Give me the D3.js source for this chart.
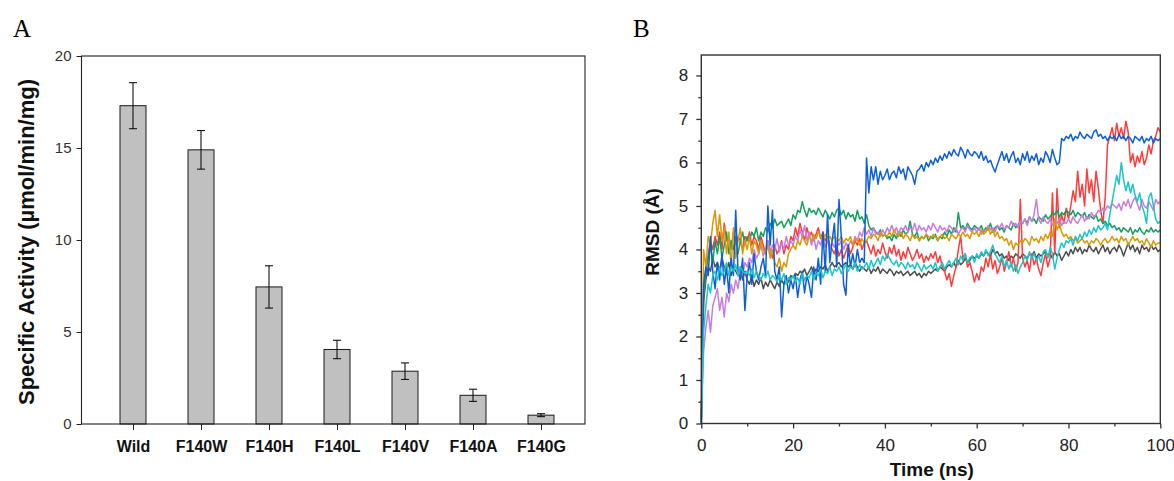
<!DOCTYPE html>
<html>
<head>
<meta charset="utf-8">
<title>Specific activity and RMSD</title>
<script src="https://cdn.jsdelivr.net/npm/d3@7"></script>
<style>
  html, body { margin: 0; padding: 0; background: #fff; }
  svg { display: block; }
</style>
</head>
<body>
<div id="chart"></div>
<script>
// ---- Panel A: specific activity of the F140 variants
var variants = ['Wild', 'F140W', 'F140H', 'F140L', 'F140V', 'F140A', 'F140G'];
var activity = [17.3, 14.9, 7.45, 4.05, 2.87, 1.56, 0.48];
var activityErr = [1.25, 1.05, 1.15, 0.5, 0.45, 0.33, 0.08];
var activityTicks = [0, 5, 10, 15, 20];

// ---- Panel B: RMSD traces, one value every 0.5 ns (0 .. 100 ns)
var rmsdStep = 0.5;
var rmsdBlack = [
  0, 2.8, 3.3, 3.6, 3.5, 3.8, 3.6, 3.7, 3.5, 3.8, 3.6, 3.5, 3.7, 3.4, 3.6, 3.5, 3.4, 3.6, 3.3, 3.5,
  3.3, 3.2, 3.4, 3.15, 3.3, 3.2, 3.35, 3.1, 3.25, 3.15, 3.3, 3.2, 3.1, 3.25, 3.15, 3.3, 3.2, 3.35, 3.25, 3.4,
  3.35, 3.45, 3.4, 3.5, 3.45, 3.55, 3.4, 3.5, 3.6, 3.45, 3.55, 3.5, 3.6, 3.55, 3.65, 3.5, 3.6, 3.7, 3.6, 3.65,
  3.7, 3.6, 3.65, 3.7, 3.6, 3.65, 3.55, 3.7, 3.6, 3.5, 3.6, 3.55, 3.5, 3.6, 3.45, 3.55, 3.5, 3.6, 3.45, 3.55,
  3.5, 3.45, 3.55, 3.5, 3.4, 3.5, 3.45, 3.5, 3.4, 3.45, 3.5, 3.4, 3.45, 3.5, 3.4, 3.45, 3.35, 3.45, 3.4, 3.5,
  3.45, 3.5, 3.55, 3.5, 3.6, 3.55, 3.5, 3.6, 3.65, 3.6, 3.7, 3.6, 3.75, 3.65, 3.7, 3.8, 3.7, 3.75, 3.85, 3.8,
  3.85, 3.8, 3.9, 3.85, 3.95, 3.9, 3.85, 4.0, 3.9, 3.95, 3.85, 3.9, 3.8, 3.85, 3.75, 3.85, 3.8, 3.9, 3.85, 3.8,
  3.9, 3.85, 3.8, 3.9, 3.85, 3.95, 3.8, 3.9, 3.85, 3.9, 3.95, 3.85, 3.9, 3.8, 3.95, 3.85, 3.9, 3.75, 3.85, 3.95,
  3.85, 4.0, 3.9, 4.05, 3.95, 4.05, 3.9, 4.0, 3.95, 4.1, 4.0, 3.95, 4.05, 3.9, 4.0, 4.1, 3.95, 4.05, 3.9, 4.0,
  4.05, 3.95, 4.1, 4.0, 3.85, 4.0, 4.15, 4.0, 4.1, 3.95, 4.05, 3.9, 4.1, 4.0, 4.05, 3.95, 4.1, 4.0, 4.05, 3.95,
  4.0];
var rmsdRed = [
  0, 3.0, 3.5, 3.9, 4.2, 4.0, 4.3, 4.1, 4.4, 4.0, 4.6, 4.2, 4.3, 4.0, 4.4, 4.1, 4.3, 4.2, 4.0, 4.3,
  4.2, 4.4, 4.1, 4.3, 4.2, 4.0, 4.3, 4.1, 3.9, 4.2, 4.0, 3.8, 4.1, 3.9, 4.0, 4.2, 3.9, 4.1, 4.0, 4.3,
  4.2, 4.5, 4.3, 4.6, 4.4, 4.2, 4.5, 4.3, 4.4, 4.2, 4.35, 4.5, 4.25, 4.4, 4.2, 4.3, 4.1, 4.0, 3.9, 4.1,
  3.85, 4.0, 3.8, 3.95, 4.1, 3.9, 4.05, 4.2, 4.1, 4.25, 4.0, 4.15, 4.2, 4.05, 3.9, 4.1, 3.85, 4.0, 3.9, 4.15,
  3.95, 3.8, 4.05, 3.9, 4.1, 3.85, 4.0, 3.75, 3.95, 3.8, 4.05, 3.9, 3.75, 3.85, 4.0, 3.8, 3.9, 3.7, 3.85, 3.75,
  3.9, 3.8, 3.95, 3.7, 3.85, 3.6, 3.5, 3.3, 3.45, 3.15, 3.4, 3.6, 4.0, 4.3, 3.8, 3.9, 3.6, 3.7, 3.5, 3.25,
  3.45, 3.3, 3.6, 3.5, 3.8, 3.6, 3.9, 3.55, 3.75, 3.45, 3.6, 3.8, 3.5, 3.7, 3.95, 3.6, 3.8, 3.5, 3.7, 5.15,
  3.8, 3.6, 3.75, 3.5, 3.9, 3.65, 3.8, 3.55, 3.4, 3.7, 3.9, 3.6, 3.8, 5.3, 3.9, 5.4, 4.5, 4.8, 4.6, 4.95,
  4.7, 5.0, 5.35, 5.1, 5.8, 5.2, 5.5, 5.0, 5.85, 5.3, 5.6, 5.1, 5.8, 5.4, 4.9, 4.6, 5.2, 6.4, 6.6, 6.8,
  6.5, 6.9, 6.6, 6.8, 6.55, 6.95, 6.7, 6.0, 6.2, 5.9, 6.15, 6.0, 6.25, 5.95, 6.1, 6.4, 6.2, 6.5, 6.6, 6.8,
  6.7];
var rmsdGreen = [
  0, 2.9, 3.5, 3.8, 4.1, 3.7, 4.2, 3.9, 4.3, 3.8, 4.1, 4.4, 3.9, 4.2, 4.0, 4.3, 3.9, 4.2, 4.4, 4.1,
  4.3, 4.2, 4.4, 4.3, 4.5, 4.2, 4.4, 4.3, 4.5, 4.4, 4.6, 4.5, 4.7, 4.55, 4.6, 4.65, 4.5, 4.6, 4.7, 4.55,
  4.8, 4.7, 4.9, 4.85, 5.1, 4.9, 4.75, 4.95, 4.85, 4.9, 4.8, 4.95, 4.85, 4.75, 4.9, 4.8, 4.7, 4.85, 4.75, 4.9,
  4.95, 4.8, 4.9, 4.7, 4.85, 4.75, 4.8, 4.65, 4.9, 4.7, 4.75, 4.6, 4.8, 4.55, 4.45, 4.5, 4.4, 4.35, 4.45, 4.3,
  4.35, 4.25, 4.3, 4.2, 4.35, 4.25, 4.4, 4.3, 4.45, 4.35, 4.4, 4.65, 4.35, 4.3, 4.4, 4.2, 4.3, 4.25, 4.35, 4.2,
  4.3, 4.25, 4.35, 4.2, 4.3, 4.25, 4.4, 4.3, 4.45, 4.35, 4.5, 4.4, 4.85, 4.5, 4.55, 4.45, 4.6, 4.5, 4.45, 4.55,
  4.5, 4.45, 4.55, 4.4, 4.5, 4.45, 4.6, 4.4, 4.5, 4.55, 4.45, 4.5, 4.4, 4.55, 4.5, 4.45, 4.6, 4.5, 4.55, 4.65,
  4.6, 4.7, 4.6, 4.75, 4.65, 4.7, 4.6, 4.75, 4.7, 4.65, 4.8, 4.7, 4.75, 4.85, 4.8, 4.9, 4.75, 4.85, 4.8, 4.9,
  4.85, 4.8, 4.9, 4.75, 4.85, 4.8, 4.75, 4.85, 4.7, 4.8, 4.75, 4.7, 4.8, 4.65, 4.7, 4.6, 4.65, 4.55, 4.6, 4.5,
  4.55, 4.45, 4.5, 4.4, 4.5, 4.45, 4.4, 4.5, 4.35, 4.45, 4.4, 4.5, 4.4, 4.35, 4.45, 4.4, 4.5, 4.4, 4.45, 4.4,
  4.45];
var rmsdPurple = [
  0, 1.65, 2.2, 2.6, 2.1, 2.7, 2.9, 3.1, 2.6, 2.9, 2.45, 3.0, 2.8, 3.2, 3.0, 3.3, 3.1, 3.5, 3.4, 3.7,
  3.6, 3.8, 3.7, 4.0, 3.8, 3.9, 4.1, 3.85, 4.0, 4.2, 3.9, 4.1, 4.0, 4.25, 3.95, 4.15, 4.0, 4.3, 4.1, 4.2,
  4.1, 4.3, 4.2, 4.45, 4.3, 4.55, 4.2, 4.4, 4.1, 4.3, 4.0, 4.2, 4.1, 4.3, 4.05, 4.2, 4.0, 4.15, 4.05, 4.2,
  4.1, 4.2, 4.0, 4.15, 4.05, 4.2, 4.1, 4.3, 4.2, 4.4, 4.3, 4.5, 4.35, 4.45, 4.3, 4.5, 4.35, 4.4, 4.3, 4.45,
  4.35, 4.5, 4.4, 4.55, 4.4, 4.5, 4.35, 4.5, 4.45, 4.55, 4.4, 4.5, 4.45, 4.6, 4.4, 4.55, 4.45, 4.5, 4.4, 4.55,
  4.45, 4.6, 4.5, 4.4, 4.55, 4.45, 4.5, 4.4, 4.55, 4.5, 4.4, 4.5, 4.35, 4.45, 4.5, 4.4, 4.55, 4.45, 4.4, 4.5,
  4.4, 4.5, 4.35, 4.45, 4.4, 4.55, 4.45, 4.5, 4.4, 4.55, 4.5, 4.6, 4.45, 4.55, 4.5, 4.65, 4.55, 4.6, 4.5, 4.65,
  4.6, 4.7, 4.55, 4.75, 4.65, 4.8, 5.15, 4.7, 4.6, 4.75, 4.65, 4.6, 4.7, 4.55, 4.65, 4.6, 4.7, 4.55, 4.65, 4.6,
  4.7, 4.6, 4.75, 4.65, 4.6, 4.7, 4.8, 4.65, 4.75, 4.7, 4.85, 4.75, 4.8, 4.9, 4.85, 4.95, 4.9, 5.0, 4.95, 5.05,
  5.0, 4.95, 5.05, 4.9, 5.1, 5.0, 5.15, 4.95, 5.1, 5.2, 5.05, 4.9, 5.15, 5.0, 4.95, 5.1, 5.0, 4.9, 5.15, 5.05,
  5.1];
var rmsdOrange = [
  0, 4.0, 3.6, 4.3, 4.1, 4.6, 4.9, 4.3, 4.8, 4.2, 4.5, 3.9, 4.4, 3.6, 4.5, 3.8, 4.2, 4.5, 3.9, 4.2,
  4.0, 4.3, 3.9, 4.2, 4.1, 3.9, 4.2, 4.0, 3.9, 4.1, 3.8, 4.0, 3.7, 3.6, 3.8, 3.5, 3.7, 3.6, 3.9, 4.0,
  4.1, 4.0, 4.2, 4.1, 4.3, 4.2, 4.1, 4.3, 4.2, 4.35, 4.25, 4.4, 4.3, 4.2, 4.35, 4.25, 4.3, 4.2, 4.3, 4.25,
  4.2, 4.3, 4.15, 4.25, 4.2, 4.3, 4.1, 4.25, 4.2, 4.1, 4.25, 4.15, 4.2, 4.3, 4.25, 4.35, 4.3, 4.2, 4.4, 4.3,
  4.35, 4.3, 4.4, 4.3, 4.45, 4.35, 4.3, 4.4, 4.25, 4.35, 4.3, 4.2, 4.35, 4.25, 4.3, 4.2, 4.3, 4.25, 4.35, 4.3,
  4.25, 4.35, 4.3, 4.2, 4.3, 4.35, 4.25, 4.3, 4.2, 4.35, 4.3, 4.25, 4.35, 4.3, 4.4, 4.3, 4.35, 4.25, 4.4, 4.35,
  4.4, 4.3, 4.45, 4.35, 4.4, 4.5, 4.35, 4.45, 4.3, 4.4, 4.25, 4.3, 4.2, 4.25, 4.1, 4.2, 4.0, 4.15, 4.1, 4.2,
  4.15, 4.25, 4.2, 4.1, 4.3, 4.2, 4.25, 4.15, 4.3, 4.2, 4.35, 4.25, 4.4, 4.3, 4.7, 4.45, 4.6, 4.4, 4.3, 4.35,
  4.25, 4.3, 4.2, 4.25, 4.15, 4.2, 4.25, 4.15, 4.2, 4.1, 4.2, 4.15, 4.25, 4.2, 4.1, 4.2, 4.25, 4.15, 4.2, 4.3,
  4.2, 4.25, 4.15, 4.3, 4.2, 4.25, 4.1, 4.2, 4.3, 4.2, 4.25, 4.15, 4.2, 4.1, 4.25, 4.15, 4.05, 4.2, 4.1, 4.15,
  4.15];
var rmsdBlue = [
  0, 3.2, 3.6, 3.4, 4.3, 3.5, 3.1, 3.7, 3.3, 3.9, 3.2, 3.6, 3.0, 3.8, 3.4, 4.9, 3.5, 3.3, 3.8, 2.6,
  3.4, 3.7, 3.2, 3.9, 3.5, 3.3, 3.6, 3.8, 3.4, 5.0, 4.1, 4.9, 3.5, 3.3, 3.6, 2.45, 3.2, 3.4, 3.0, 3.3,
  3.1, 3.4, 2.9, 3.3, 3.5, 3.0, 3.4, 3.2, 2.9, 3.6, 3.3, 3.8, 3.2, 4.4, 3.5, 4.8, 3.7, 4.2, 4.6, 3.6,
  5.15, 4.3, 3.2, 2.95, 4.1, 3.6, 3.9, 3.6, 4.0, 3.7, 3.8, 3.7, 6.1, 5.3, 5.9, 5.6, 5.9, 5.5, 5.8, 5.6,
  5.7, 5.85, 5.6, 5.75, 5.8, 5.65, 5.9, 5.75, 5.85, 5.6, 5.9, 5.8, 5.7, 5.5, 5.8, 5.85, 5.95, 5.8, 6.0, 5.9,
  6.05, 5.95, 6.1, 6.0, 6.15, 6.05, 6.2, 6.1, 6.25, 6.15, 6.3, 6.2, 6.15, 6.35, 6.25, 6.1, 6.3, 6.2, 6.15, 6.25,
  6.2, 6.1, 6.25, 6.05, 6.15, 6.0, 6.05, 5.9, 5.78, 5.95, 6.1, 6.25, 6.05, 6.2, 6.0, 6.15, 6.25, 6.0, 6.1, 5.95,
  6.2, 6.05, 6.25, 6.0, 6.15, 6.05, 6.2, 5.95, 6.1, 6.0, 6.25, 6.15, 6.0, 6.3, 6.1, 5.95, 6.0, 6.55, 6.5, 6.6,
  6.55, 6.65, 6.5, 6.6, 6.55, 6.7, 6.6, 6.55, 6.65, 6.6, 6.55, 6.7, 6.75, 6.6, 6.65, 6.55, 6.6, 6.5, 6.6, 6.55,
  6.6, 6.5, 6.65, 6.55, 6.6, 6.5, 6.6, 6.55, 6.45, 6.6, 6.55, 6.5, 6.6, 6.45, 6.55, 6.5, 6.6, 6.45, 6.55, 6.5,
  6.55];
var rmsdCyan = [
  0, 2.1, 2.7, 3.2, 3.0, 3.4, 3.5, 3.3, 3.6, 3.4, 3.5, 3.7, 3.4, 3.6, 3.5, 3.65, 3.4, 3.6, 3.5, 3.45,
  3.5, 3.4, 3.55, 3.35, 3.5, 3.4, 3.3, 3.45, 3.35, 3.5, 3.3, 3.4, 3.35, 3.25, 3.4, 3.3, 3.45, 3.2, 3.35, 3.3,
  3.4, 3.25, 3.35, 3.2, 3.45, 3.3, 3.4, 3.35, 3.5, 3.3, 3.45, 3.4, 3.55, 3.35, 3.5, 3.45, 3.6, 3.4, 3.55, 3.5,
  3.6, 3.45, 3.55, 3.65, 3.5, 3.6, 3.55, 3.7, 3.5, 3.65, 3.55, 3.6, 3.7, 3.55, 3.75, 3.6, 3.7, 3.8, 3.65, 3.85,
  3.75, 3.9, 3.8, 3.7, 3.65, 3.75, 3.6, 3.7, 3.65, 3.55, 3.7, 3.6, 3.65, 3.55, 3.7, 3.6, 3.5, 3.65, 3.55, 3.6,
  3.65, 3.55, 3.7, 3.5, 3.6, 3.7, 3.55, 3.65, 3.75, 3.6, 3.7, 3.8, 3.65, 3.85, 3.75, 3.9, 3.7, 3.8, 3.85, 3.7,
  3.9, 3.8, 3.95, 3.85, 4.0, 3.85, 3.95, 4.1, 3.9, 3.8, 3.7, 3.85, 3.6, 3.75, 3.55, 3.7, 3.5, 3.65, 3.45, 3.6,
  3.7, 3.85, 3.75, 3.95, 3.8, 3.9, 3.75, 3.85, 3.7, 3.95, 4.0, 3.8, 4.05, 3.9, 3.55, 3.8, 4.0, 4.15, 4.05, 4.2,
  4.15, 4.25, 4.1, 4.3, 4.2, 4.35, 4.25, 4.4, 4.3, 4.45, 4.35, 4.5, 4.4, 4.55, 4.45, 4.5, 4.6, 4.45, 4.8, 5.1,
  5.4, 5.7, 5.5, 6.0, 5.6, 5.35, 5.55, 5.3, 5.5, 5.25, 5.1, 5.3, 5.0, 4.85, 4.6, 5.2, 5.3, 5.0, 4.7, 4.6,
  4.65];
var timeTicks = [0, 20, 40, 60, 80, 100];
var timeMinor = [10, 30, 50, 70, 90];
var rmsdTicks = [0, 1, 2, 3, 4, 5, 6, 7, 8];
var rmsdMinor = [0.5, 1.5, 2.5, 3.5, 4.5, 5.5, 6.5, 7.5];

// draw order follows the reference (cyan ends up on top)
var traces = [
  {color: '#4d4d4d', values: rmsdBlack},
  {color: '#ff3b3b', values: rmsdRed},
  {color: '#12a05c', values: rmsdGreen},
  {color: '#c77ddf', values: rmsdPurple},
  {color: '#d79a06', values: rmsdOrange},
  {color: '#0d5fd8', values: rmsdBlue},
  {color: '#1cc5c8', values: rmsdCyan}
];

var sans = 'Arial, "Liberation Sans", sans-serif';
var serif = '"Times New Roman", "Liberation Serif", serif';

var svg = d3.select('#chart').append('svg')
  .attr('width', 1174)
  .attr('height', 481);

svg.append('rect').attr('width', 1174).attr('height', 481).attr('fill', '#fff');

// ================= Panel A =================
var pa = {left: 81.5, right: 585, top: 56, bottom: 424};

var xA = d3.scalePoint()
  .domain(variants)
  .range([133, 541]);

var yA = d3.scaleLinear()
  .domain([0, 20])
  .range([pa.bottom, pa.top]);

var barW = 26;

var gA = svg.append('g');

gA.append('text')
  .attr('x', 13).attr('y', 37)
  .style('font-family', serif)
  .style('font-size', '25px')
  .text('A');

var yAxisA = gA.append('g')
  .attr('transform', 'translate(' + pa.left + ',0)')
  .call(d3.axisLeft(yA).tickValues(activityTicks).tickSize(5).tickPadding(5).tickSizeOuter(0));
yAxisA.select('.domain').remove();
yAxisA.selectAll('line').attr('stroke', '#222');
yAxisA.selectAll('text')
  .style('font-family', sans)
  .style('font-size', '15px')
  .attr('fill', '#333');

var xAxisA = gA.append('g')
  .attr('transform', 'translate(0,' + pa.bottom + ')')
  .call(d3.axisBottom(xA).tickSize(6).tickPadding(11).tickSizeOuter(0));
xAxisA.select('.domain').remove();
xAxisA.selectAll('line').attr('stroke', '#222');
xAxisA.selectAll('text')
  .style('font-family', sans)
  .style('font-size', '16px')
  .style('font-weight', 'bold')
  .attr('fill', '#111');

// bars
gA.selectAll('rect.bar')
  .data(variants)
  .enter()
  .append('rect')
  .attr('class', 'bar')
  .attr('x', function(d) { return xA(d) - barW / 2; })
  .attr('y', function(d, i) { return yA(activity[i]); })
  .attr('width', barW)
  .attr('height', function(d, i) { return yA(0) - yA(activity[i]); })
  .attr('fill', '#c0c0c0')
  .attr('stroke', '#1a1a1a')
  .attr('stroke-width', 1);

// error bars
var errs = gA.selectAll('g.err')
  .data(variants)
  .enter()
  .append('g')
  .attr('class', 'err')
  .attr('stroke', '#111')
  .attr('stroke-width', 1.1);

errs.append('line')
  .attr('x1', function(d) { return xA(d); })
  .attr('x2', function(d) { return xA(d); })
  .attr('y1', function(d, i) { return yA(activity[i] + activityErr[i]); })
  .attr('y2', function(d, i) { return yA(activity[i] - activityErr[i]); });

errs.append('line')
  .attr('x1', function(d) { return xA(d) - 4; })
  .attr('x2', function(d) { return xA(d) + 4; })
  .attr('y1', function(d, i) { return yA(activity[i] + activityErr[i]); })
  .attr('y2', function(d, i) { return yA(activity[i] + activityErr[i]); });

errs.append('line')
  .attr('x1', function(d) { return xA(d) - 4; })
  .attr('x2', function(d) { return xA(d) + 4; })
  .attr('y1', function(d, i) { return yA(activity[i] - activityErr[i]); })
  .attr('y2', function(d, i) { return yA(activity[i] - activityErr[i]); });

// frame
gA.append('rect')
  .attr('x', pa.left).attr('y', pa.top)
  .attr('width', pa.right - pa.left).attr('height', pa.bottom - pa.top)
  .attr('fill', 'none')
  .attr('stroke', '#222')
  .attr('stroke-width', 1.1);

gA.append('text')
  .attr('transform', 'translate(33.5,' + ((pa.top + pa.bottom) / 2 + 2) + ') rotate(-90)')
  .attr('text-anchor', 'middle')
  .style('font-family', sans)
  .style('font-size', '22px')
  .style('font-weight', 'bold')
  .attr('fill', '#111')
  .text('Specific Activity (\u00b5mol/min/mg)');

// ================= Panel B =================
var pb = {left: 701.3, right: 1160.3, top: 55, bottom: 423.5};

var xB = d3.scaleLinear()
  .domain([0, 100])
  .range([pb.left, pb.right]);

var yB = d3.scaleLinear()
  .domain([0, 8.47])
  .range([pb.bottom, pb.top]);

var gB = svg.append('g');

gB.append('text')
  .attr('x', 633).attr('y', 37)
  .style('font-family', serif)
  .style('font-size', '25px')
  .text('B');

// traces
var line = d3.line()
  .x(function(d, i) { return xB(i * rmsdStep); })
  .y(function(d) { return yB(d); });

gB.selectAll('path.trace')
  .data(traces)
  .enter()
  .append('path')
  .attr('class', 'trace')
  .attr('d', function(d) { return line(d.values); })
  .attr('fill', 'none')
  .attr('stroke', function(d) { return d.color; })
  .attr('stroke-width', 1.5)
  .attr('stroke-linejoin', 'round');

// axes
var yAxisB = gB.append('g')
  .attr('transform', 'translate(' + pb.left + ',0)')
  .call(d3.axisLeft(yB).tickValues(rmsdTicks).tickSize(5).tickPadding(8).tickSizeOuter(0));
yAxisB.select('.domain').remove();

var yMinorB = gB.append('g')
  .attr('transform', 'translate(' + pb.left + ',0)')
  .call(d3.axisLeft(yB).tickValues(rmsdMinor).tickSize(3).tickFormat('').tickSizeOuter(0));
yMinorB.select('.domain').remove();

var xAxisB = gB.append('g')
  .attr('transform', 'translate(0,' + pb.bottom + ')')
  .call(d3.axisBottom(xB).tickValues(timeTicks).tickSize(5).tickPadding(10).tickSizeOuter(0));
xAxisB.select('.domain').remove();

var xMinorB = gB.append('g')
  .attr('transform', 'translate(0,' + pb.bottom + ')')
  .call(d3.axisBottom(xB).tickValues(timeMinor).tickSize(3).tickFormat('').tickSizeOuter(0));
xMinorB.select('.domain').remove();

gB.selectAll('.tick line').attr('stroke', '#333').attr('stroke-width', 1.3);
gB.selectAll('.tick text')
  .style('font-family', sans)
  .style('font-size', '17px')
  .attr('fill', '#222');

gB.append('rect')
  .attr('x', pb.left).attr('y', pb.top)
  .attr('width', pb.right - pb.left).attr('height', pb.bottom - pb.top)
  .attr('fill', 'none')
  .attr('stroke', '#333')
  .attr('stroke-width', 1.4);

gB.append('text')
  .attr('x', (pb.left + pb.right) / 2 + 1)
  .attr('y', 476)
  .attr('text-anchor', 'middle')
  .style('font-family', sans)
  .style('font-size', '19px')
  .style('font-weight', 'bold')
  .attr('fill', '#111')
  .text('Time (ns)');

gB.append('text')
  .attr('transform', 'translate(659,' + 232 + ') rotate(-90)')
  .attr('text-anchor', 'middle')
  .style('font-family', sans)
  .style('font-size', '19px')
  .style('font-weight', 'bold')
  .attr('fill', '#111')
  .text('RMSD (\u00c5)');
</script>
</body>
</html>
